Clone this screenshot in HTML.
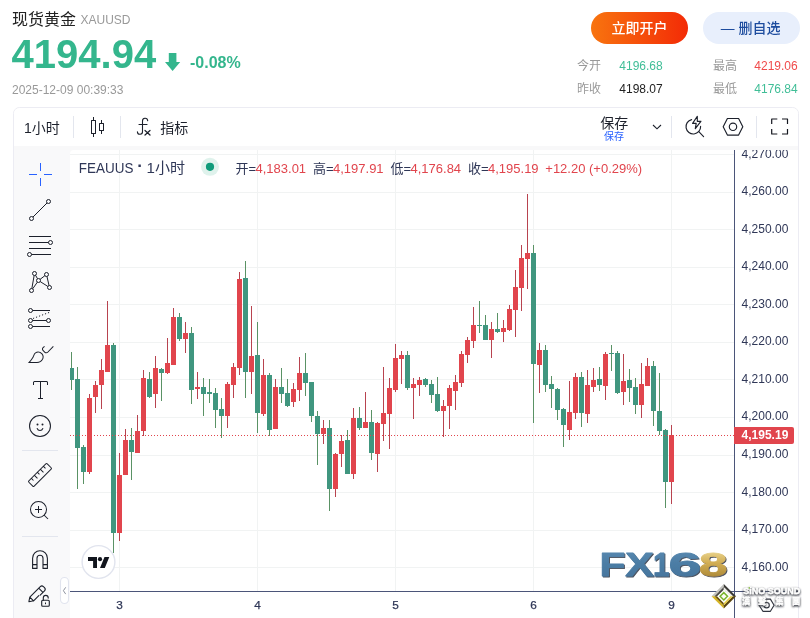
<!DOCTYPE html>
<html lang="zh-CN">
<head>
<meta charset="utf-8">
<title>现货黄金 XAUUSD</title>
<style>
html,body{margin:0;padding:0;background:#fff;}
body{width:810px;height:618px;overflow:hidden;position:relative;font-family:"Liberation Sans","Noto Sans CJK SC",sans-serif;}
svg{position:absolute;left:0;top:0;display:block;}
svg text{font-family:"Liberation Sans","Noto Sans CJK SC",sans-serif;}
</style>
</head>
<body>
<svg width="810" height="618" viewBox="0 0 810 618">
<defs>
<linearGradient id="og" x1="0" y1="0" x2="1" y2="0"><stop offset="0" stop-color="#f8740f"/><stop offset="1" stop-color="#f32b06"/></linearGradient>
<linearGradient id="gold" x1="0" y1="0" x2="0" y2="1"><stop offset="0" stop-color="#f3e3a4"/><stop offset="0.45" stop-color="#d2ae55"/><stop offset="1" stop-color="#a07c2c"/></linearGradient>
<linearGradient id="steel" x1="0" y1="0" x2="0" y2="1"><stop offset="0" stop-color="#5a8bb2"/><stop offset="0.5" stop-color="#4b7ca4"/><stop offset="1" stop-color="#44739b"/></linearGradient>
<linearGradient id="dg" x1="0" y1="0" x2="1" y2="1"><stop offset="0" stop-color="#f2dc84"/><stop offset="0.5" stop-color="#c9a238"/><stop offset="1" stop-color="#6e5412"/></linearGradient>
<filter id="ws" x="-10%" y="-40%" width="120%" height="190%"><feGaussianBlur in="SourceAlpha" stdDeviation="0.900" result="b"/><feOffset in="b" dx="0.400" dy="0.500" result="o"/><feFlood flood-color="#4a4d55" flood-opacity="0.950"/><feComposite in2="o" operator="in" result="sh"/><feMerge><feMergeNode in="sh"/><feMergeNode in="sh"/><feMergeNode in="SourceGraphic"/></feMerge></filter>
<filter id="fxs" x="-5%" y="-20%" width="110%" height="140%"><feOffset in="SourceAlpha" dx="1.200" dy="0.900" result="o"/><feFlood flood-color="#2a3242" flood-opacity="0.850"/><feComposite in2="o" operator="in" result="sh"/><feMerge><feMergeNode in="sh"/><feMergeNode in="SourceGraphic"/></feMerge></filter>
<clipPath id="axclip"><rect x="735" y="150" width="63" height="468"/></clipPath>
<clipPath id="panel"><path d="M14 618V113.500a5.500 5.500 0 0 1 5.500-5.500h773a5.500 5.500 0 0 1 5.500 5.500v504.500z"/></clipPath>
</defs>

<!-- header -->
<text x="12" y="25" font-size="16" fill="#222">现货黄金</text>
<text x="80.5" y="24" font-size="12" fill="#999">XAUUSD</text>
<text x="11.600" y="68.3" font-size="40" font-weight="bold" fill="#34b68d">4194.94</text>
<path d="M168.800 53h7.600v9h3.800l-7.600 8.900-7.600-8.900h3.800z" fill="#34b68d"/>
<text x="190" y="68.3" font-size="16" font-weight="bold" fill="#34b68d">-0.08%</text>
<text x="12" y="94" font-size="12" fill="#999">2025-12-09 00:39:33</text>
<rect x="591" y="12" width="97" height="32" rx="16" fill="url(#og)"/>
<text x="639.5" y="33" font-size="14" font-weight="500" fill="#fff" text-anchor="middle">立即开户</text>
<rect x="703" y="12" width="97" height="32" rx="16" fill="#e8effc"/>
<text x="720.700" y="33" font-size="14" fill="#1d4c9e" textLength="13.800" lengthAdjust="spacingAndGlyphs">—</text>
<text x="738.5" y="33" font-size="14" font-weight="500" fill="#1d4c9e">删自选</text>
<g font-size="12">
<text x="577" y="69.5" fill="#999">今开</text><text x="619.3" y="69.5" fill="#40be97">4196.68</text>
<text x="713" y="69.5" fill="#999">最高</text><text x="754.3" y="69.5" fill="#f04b4b">4219.06</text>
<text x="577" y="93.2" fill="#999">昨收</text><text x="619.3" y="93.2" fill="#222">4198.07</text>
<text x="713" y="93.2" fill="#999">最低</text><text x="754.3" y="93.2" fill="#40be97">4176.84</text>
</g>

<!-- panel -->
<path d="M13.500 618V113.500a6 6 0 0 1 6-6h773a6 6 0 0 1 6 6v504.500" fill="#f9f9fa" stroke="#ececf3" stroke-width="1"/>
<g clip-path="url(#panel)">
<rect x="14" y="108" width="784" height="38" fill="#fff"/>
<rect x="14" y="146" width="784" height="4" fill="#f8f8f9"/>
<rect x="14" y="150" width="56" height="468" fill="#f9f9fa"/>
<path d="M70 618V154a4 4 0 0 1 4-4h724v468z" fill="#fff"/>
</g>

<!-- chart -->
<g shape-rendering="crispEdges">
<rect x="70" y="154" width="664" height="1" fill="#f1f3f3"/>
<rect x="70" y="192" width="664" height="1" fill="#f1f3f3"/>
<rect x="70" y="229" width="664" height="1" fill="#f1f3f3"/>
<rect x="70" y="267" width="664" height="1" fill="#f1f3f3"/>
<rect x="70" y="304" width="664" height="1" fill="#f1f3f3"/>
<rect x="70" y="342" width="664" height="1" fill="#f1f3f3"/>
<rect x="70" y="379" width="664" height="1" fill="#f1f3f3"/>
<rect x="70" y="417" width="664" height="1" fill="#f1f3f3"/>
<rect x="70" y="455" width="664" height="1" fill="#f1f3f3"/>
<rect x="70" y="492" width="664" height="1" fill="#f1f3f3"/>
<rect x="70" y="530" width="664" height="1" fill="#f1f3f3"/>
<rect x="70" y="567" width="664" height="1" fill="#f1f3f3"/>
<rect x="119" y="150" width="1" height="441" fill="#f1f3f3"/>
<rect x="257" y="150" width="1" height="441" fill="#f1f3f3"/>
<rect x="395" y="150" width="1" height="441" fill="#f1f3f3"/>
<rect x="533" y="150" width="1" height="441" fill="#f1f3f3"/>
<rect x="671" y="150" width="1" height="441" fill="#f1f3f3"/>
<path d="M71 352h1v38h-1zM77 367h1v122h-1zM83 445h1v39h-1zM113 343h1v210h-1zM131 428h1v52h-1zM149 372h1v26h-1zM161 368h1v33h-1zM179 313h1v28h-1zM191 327h1v77h-1zM203 378h1v38h-1zM209 379h1v24h-1zM215 388h1v40h-1zM221 398h1v40h-1zM245 261h1v137h-1zM257 322h1v111h-1zM269 373h1v63h-1zM281 368h1v35h-1zM287 379h1v28h-1zM305 353h1v43h-1zM311 382h1v40h-1zM317 411h1v54h-1zM329 420h1v91h-1zM347 430h1v44h-1zM359 407h1v23h-1zM371 410h1v50h-1zM407 351h1v39h-1zM425 378h1v9h-1zM431 380h1v23h-1zM437 377h1v35h-1zM479 301h1v32h-1zM485 315h1v25h-1zM497 313h1v20h-1zM533 245h1v178h-1zM545 345h1v47h-1zM551 376h1v32h-1zM557 388h1v32h-1zM563 408h1v39h-1zM581 372h1v55h-1zM599 367h1v24h-1zM611 345h1v26h-1zM617 351h1v43h-1zM629 369h1v33h-1zM635 378h1v36h-1zM653 361h1v65h-1zM659 373h1v62h-1zM665 429h1v79h-1z" fill="#5a9265"/>
<path d="M89 394h1v80h-1zM95 381h1v32h-1zM101 359h1v50h-1zM107 301h1v71h-1zM119 453h1v88h-1zM125 429h1v46h-1zM137 415h1v38h-1zM143 370h1v66h-1zM155 356h1v52h-1zM167 338h1v36h-1zM173 308h1v57h-1zM185 322h1v31h-1zM197 372h1v27h-1zM227 382h1v46h-1zM233 363h1v35h-1zM239 272h1v103h-1zM251 306h1v88h-1zM263 359h1v57h-1zM275 379h1v50h-1zM293 383h1v24h-1zM299 357h1v44h-1zM323 420h1v24h-1zM335 453h1v44h-1zM341 435h1v32h-1zM353 408h1v71h-1zM365 392h1v36h-1zM377 422h1v50h-1zM383 367h1v74h-1zM389 378h1v71h-1zM395 344h1v48h-1zM401 351h1v33h-1zM413 378h1v41h-1zM419 377h1v19h-1zM443 400h1v37h-1zM449 385h1v44h-1zM455 375h1v35h-1zM461 351h1v36h-1zM467 337h1v26h-1zM473 307h1v41h-1zM491 322h1v36h-1zM503 320h1v22h-1zM509 305h1v26h-1zM515 270h1v67h-1zM521 245h1v66h-1zM527 194h1v95h-1zM539 343h1v50h-1zM569 381h1v59h-1zM575 373h1v46h-1zM587 370h1v53h-1zM593 368h1v24h-1zM605 352h1v48h-1zM623 354h1v51h-1zM641 363h1v55h-1zM647 358h1v28h-1zM671 425h1v79h-1z" fill="#b8434f"/>
<path d="M70 368h4v12h-4zM75 379h5v69h-5zM81 447h5v25h-5zM111 345h5v188h-5zM129 440h5v12h-5zM147 379h5v18h-5zM159 369h5v4h-5zM177 317h5v22h-5zM189 333h5v57h-5zM201 387h5v7h-5zM207 392h5v2h-5zM213 393h5v17h-5zM219 409h5v7h-5zM243 278h5v94h-5zM255 355h5v58h-5zM267 375h5v55h-5zM279 387h5v7h-5zM285 393h5v13h-5zM303 373h5v10h-5zM309 382h5v34h-5zM315 416h5v18h-5zM327 428h5v61h-5zM345 440h5v34h-5zM357 418h5v10h-5zM369 422h5v31h-5zM405 355h5v33h-5zM423 379h5v6h-5zM429 384h5v11h-5zM435 394h5v17h-5zM477 325h5v1h-5zM483 325h5v15h-5zM495 329h5v3h-5zM531 253h5v111h-5zM543 350h5v35h-5zM549 384h5v5h-5zM555 389h5v21h-5zM561 409h5v16h-5zM579 377h5v36h-5zM597 379h5v6h-5zM609 353h5v1h-5zM615 353h5v40h-5zM627 380h5v8h-5zM633 387h5v18h-5zM651 366h5v45h-5zM657 411h5v20h-5zM663 430h5v52h-5z" fill="#40967f"/>
<path d="M87 398h5v74h-5zM93 385h5v12h-5zM99 370h5v15h-5zM105 345h5v27h-5zM117 475h5v58h-5zM123 440h5v35h-5zM135 431h5v22h-5zM141 378h5v53h-5zM153 368h5v26h-5zM165 363h5v10h-5zM171 317h5v48h-5zM183 333h5v6h-5zM195 387h5v2h-5zM225 384h5v32h-5zM231 367h5v18h-5zM237 279h5v89h-5zM249 356h5v16h-5zM261 375h5v39h-5zM273 387h5v42h-5zM291 389h5v13h-5zM297 373h5v17h-5zM321 428h5v6h-5zM333 454h5v35h-5zM339 441h5v13h-5zM351 418h5v56h-5zM363 422h5v6h-5zM375 423h5v31h-5zM381 413h5v11h-5zM387 388h5v26h-5zM393 358h5v32h-5zM399 355h5v4h-5zM411 384h5v4h-5zM417 380h5v5h-5zM441 406h5v5h-5zM447 388h5v18h-5zM453 382h5v9h-5zM459 354h5v29h-5zM465 340h5v15h-5zM471 325h5v16h-5zM489 329h5v11h-5zM501 328h5v4h-5zM507 309h5v21h-5zM513 287h5v23h-5zM519 258h5v30h-5zM525 253h5v6h-5zM537 350h5v15h-5zM567 412h5v18h-5zM573 377h5v36h-5zM585 385h5v29h-5zM591 380h5v7h-5zM603 354h5v32h-5zM621 381h5v11h-5zM639 384h5v21h-5zM645 366h5v20h-5zM669 435h5v47h-5z" fill="#e1454d"/>
<line x1="70" y1="435.5" x2="734" y2="435.5" stroke="#e1454d" stroke-width="1" stroke-dasharray="1 2"/>
<rect x="734" y="150" width="1" height="468" fill="#4b5579"/>
<rect x="70" y="591" width="728" height="1" fill="#4b5579"/>
</g>
<g font-size="12" fill="#2f3757" clip-path="url(#axclip)">
<text x="741.6" y="158">4,270.00</text>
<text x="741.6" y="195">4,260.00</text>
<text x="741.6" y="233">4,250.00</text>
<text x="741.6" y="270">4,240.00</text>
<text x="741.6" y="308">4,230.00</text>
<text x="741.6" y="345">4,220.00</text>
<text x="741.6" y="383">4,210.00</text>
<text x="741.6" y="420">4,200.00</text>
<text x="741.6" y="458">4,190.00</text>
<text x="741.6" y="496">4,180.00</text>
<text x="741.6" y="533">4,170.00</text>
<text x="741.6" y="571">4,160.00</text>
</g>
<path d="M734 427h58a2 2 0 0 1 2 2v13a2 2 0 0 1-2 2h-58z" fill="#e1454d"/>
<text x="741.6" y="439.2" font-size="12" font-weight="bold" fill="#fff">4,195.19</text>
<g font-size="11.800" fill="#2f3757" stroke="#2f3757" stroke-width="0.250" text-anchor="middle">
<text x="119.5" y="608.8">3</text>
<text x="257.5" y="608.8">4</text>
<text x="395.5" y="608.8">5</text>
<text x="533.5" y="608.8">6</text>
<text x="671.5" y="608.8">9</text>
</g>
<!-- top toolbar -->
<g fill="#e3e6ee"><rect x="73" y="116" width="1" height="22"/><rect x="120" y="116" width="1" height="22"/><rect x="671" y="116" width="1" height="22"/><rect x="756" y="116" width="1" height="22"/></g>
<text x="24" y="132.600" font-size="14" fill="#1c202b">1小时</text>
<g transform="translate(83 113)" fill="#1c202b"><path d="M17 11v6h3v-6h-3zm-.5-1h4a.5.5 0 0 1 .5.5v7a.5.5 0 0 1-.5.5h-4a.5.5 0 0 1-.5-.5v-7a.5.5 0 0 1 .5-.5z"/><path d="M18 7h1v3.500h-1zm0 10.500h1V21h-1z"/><path d="M9 8v12h3V8H9zm-.5-1h4a.5.5 0 0 1 .5.5v13a.5.5 0 0 1-.5.5h-4a.5.5 0 0 1-.5-.5v-13a.5.5 0 0 1 .5-.5z"/><path d="M10 4h1v3.500h-1zm0 16.500h1V24h-1z"/></g>
<g fill="none" stroke="#1c202b" stroke-width="1.100" stroke-linecap="round"><path d="M147.700 120.600A2.600 2.600 0 0 0 142.500 121V131.500A2.550 2.550 0 0 1 137.400 131.900"/><path d="M139 124.500h8"/><path d="M145 130.500l5 4.500M150 130.500l-5 4.500" stroke-width="1.250"/></g>
<text x="160.300" y="132.600" font-size="14" fill="#1c202b">指标</text>
<text x="600.300" y="128" font-size="14" fill="#1c202b">保存</text>
<text x="604" y="139.700" font-size="10" fill="#2962ff">保存</text>
<path d="M653 125l4 3.800 4-3.800" fill="none" stroke="#1c202b" stroke-width="1.100"/>
<g fill="none" stroke="#1c202b" stroke-width="1.150" stroke-linejoin="round" stroke-linecap="round">
<path d="M691.600 119.600A7.300 7.300 0 1 0 700.600 126.400"/><path d="M698.800 131.700l4.800 4.900"/><path d="M697.300 116.300L692.600 123.400H696.200L695.300 128.600L700.900 121.300H697.300Z"/><path d="M723.200 126.800L727.400 118.500H738.600L742.800 126.800L738.600 135.100H727.400Z"/><circle cx="733" cy="126.800" r="3.700"/>

</g>
<path d="M771.700 124V119H777.300M782 119H787.500V124M787.500 129V134H782M777.300 134H771.700V129" fill="none" stroke="#14171f" stroke-width="1.200" stroke-linejoin="round"/>

<!-- legend -->
<text x="78.800" y="172.700" font-size="14.500" fill="#2f3757" textLength="54.600" lengthAdjust="spacingAndGlyphs">FEAUUS</text>
<text x="137.300" y="171.200" font-size="17" font-weight="bold" fill="#2f3757">·</text>
<text x="146.600" y="172.700" font-size="14.500" fill="#2f3757" textLength="38.500" lengthAdjust="spacingAndGlyphs">1小时</text>
<circle cx="210" cy="166.800" r="9" fill="#dff2ec"/><circle cx="210" cy="166.800" r="4.100" fill="#0f9b7a"/>
<g font-size="13">
<text x="235.500" y="173.100" fill="#2f3757">开=</text><text x="255.500" y="173.100" fill="#e1454d">4,183.01</text>
<text x="313" y="173.100" fill="#2f3757">高=</text><text x="333" y="173.100" fill="#e1454d">4,197.91</text>
<text x="390.500" y="173.100" fill="#2f3757">低=</text><text x="410.500" y="173.100" fill="#e1454d">4,176.84</text>
<text x="468" y="173.100" fill="#2f3757">收=</text><text x="488" y="173.100" fill="#e1454d">4,195.19</text>
<text x="545.300" y="173.100" fill="#e1454d">+12.20 (+0.29%)</text>
</g>

<!-- left toolbar -->
<g transform="translate(26 160)" fill="#2962ff"><path d="M18 15h8v-1h-8z"/><path d="M14 18v8h1v-8zM14 3v8h1v-8zM3 15h8v-1h-8z"/></g>
<g transform="translate(26 196)" fill="none" stroke="#1c202b" stroke-width="1"><path d="M7 21l14-14"/><circle cx="22.5" cy="5.5" r="2"/><circle cx="5.5" cy="22.5" r="2"/></g>
<g transform="translate(26 232)" fill="none" stroke="#1c202b" stroke-width="1"><path d="M3 4.500h22M3 16.500h22M3 10.500h19.500M5.500 22.500h19.500"/><circle cx="24.5" cy="10.5" r="2"/><circle cx="3.5" cy="22.5" r="2"/></g>
<g transform="translate(26 268)" fill="none" stroke="#1c202b" stroke-width="1"><path d="M8.150 7.500l-2.300 13M9.500 7.200l2 3.500M11.400 14.100l-4.700 6.700M14.100 11.300l4.800-3.600M14.200 13.600l7.600 4.800M20.950 8.450l2.100 9.100"/><circle cx="8.5" cy="5.5" r="2"/><circle cx="5.5" cy="22.5" r="2"/><circle cx="12.5" cy="12.5" r="2"/><circle cx="20.5" cy="6.5" r="2"/><circle cx="23.5" cy="19.5" r="2"/></g>
<g transform="translate(26 304)" fill="none" stroke="#1c202b" stroke-width="1"><path d="M6.500 6.500h17.500M6.500 16.500h14M6.500 22.500h17.500"/><path d="M7 14.500l16.500-6.200" stroke-dasharray="1.200 2"/><circle cx="4.5" cy="6.5" r="2"/><circle cx="4.5" cy="16.5" r="2"/><circle cx="22.5" cy="16.5" r="2"/><circle cx="4.5" cy="22.5" r="2"/></g>
<g transform="translate(26 340)" fill="#1c202b"><path d="M1.789 23l.859-.854.221-.228c.18-.19.38-.409.597-.655.619-.704 1.238-1.478 1.815-2.298.982-1.396 1.738-2.776 2.177-4.081 1.234-3.667 5.957-4.716 8.923-1.263 3.251 3.785-.037 9.380-5.379 9.380h-9.211zm9.211-1c4.544 0 7.272-4.642 4.621-7.728-2.450-2.853-6.225-2.015-7.216.931-.474 1.408-1.273 2.869-2.307 4.337-.599.852-1.241 1.653-1.882 2.383l-.068.078h6.853z"/><path d="M18.182 6.002l-1.419 1.286c-1.031.935-1.075 2.501-.096 3.480l1.877 1.877c.976.976 2.553.954 3.513-.045l5.650-5.874-.721-.693-5.650 5.874c-.574.596-1.507.609-2.086.031l-1.877-1.877c-.574-.574-.548-1.480.061-2.032l1.419-1.286-.672-.741z"/></g>
<g transform="translate(26 376)" fill="#1c202b"><path d="M8 6.500c0-.28.22-.5.5-.5H14v16h-2v1h5v-1h-2V6h5.500c.28 0 .5.22.5.5V9h1V6.500c0-.83-.67-1.500-1.500-1.500h-11C7.670 5 7 5.670 7 6.500V9h1V6.500z"/></g>
<g transform="translate(26 412)" fill="#1c202b"><path fill-rule="evenodd" d="M4.050 14a9.950 9.950 0 1 1 19.900 0 9.950 9.950 0 0 1-19.900 0zM14 3a11 11 0 1 0 0 22 11 11 0 0 0 0-22zm-3 13.030a.5.5 0 0 1 .64.3 2.500 2.500 0 0 0 4.720 0 .5.5 0 0 1 .94.340 3.500 3.500 0 0 1-6.600 0 .5.5 0 0 1 .3-.640zm.5-4.530a1 1 0 1 0 0 2 1 1 0 0 0 0-2zm5 0a1 1 0 1 0 0 2 1 1 0 0 0 0-2z"/></g>
<rect x="22" y="450" width="36" height="1" fill="#e3e6ee"/>
<g transform="translate(26 461)" fill="#1c202b"><path fill-rule="evenodd" transform="rotate(-45 14 14)" d="M2 9.750a1.500 1.500 0 0 0-1.500 1.500v5.500a1.500 1.500 0 0 0 1.500 1.500h24a1.500 1.500 0 0 0 1.500-1.500v-5.500a1.500 1.500 0 0 0-1.500-1.500zm0 1h3v2.500h1v-2.500h3.250v3.900h1v-3.900h3.250v2.500h1v-2.500h3.250v3.900h1v-3.900H22v2.500h1v-2.500h3a.5.5 0 0 1 .5.5v5.500a.5.5 0 0 1-.5.5H2a.5.5 0 0 1-.5-.5v-5.500a.5.5 0 0 1 .5-.5z"/></g>
<g transform="translate(26 497)" fill="#1c202b"><path d="M17.646 18.354l4 4 .708-.708-4-4z"/><path fill-rule="evenodd" d="M12.500 21a8.500 8.500 0 1 1 0-17 8.500 8.500 0 0 1 0 17zm0-1a7.500 7.500 0 1 0 0-15 7.500 7.500 0 0 0 0 15z"/><path d="M9 13h7v-1H9z"/><path d="M13 16V9h-1v7z"/></g>
<rect x="22" y="536" width="36" height="1" fill="#e3e6ee"/>
<g fill="none" stroke="#1c202b" stroke-width="1.100" stroke-linejoin="round"><path d="M32.600 568.400V558.200A7.400 7.400 0 0 1 47.400 558.200V568.400H43V558.200A3 3 0 0 0 37 558.200V568.400ZM32.600 564.600H37M43 564.600H47.400"/></g>
<g fill="none" stroke="#1c202b" stroke-width="1.100" stroke-linejoin="round" stroke-linecap="round"><path d="M28.900 601.700l.9-4.600 10.500-10.500a2.200 2.200 0 0 1 3.100 0l1.100 1.100a2.200 2.200 0 0 1 0 3.100l-4.300 4.300M28.900 601.700l4.700-.9 5.200-5.200M29.800 597.100l3.800 3.700M38.700 588.200l4 4"/><rect x="41.700" y="600.300" width="7.600" height="6" rx="1"/><path d="M43.300 600.300v-2.500a2.450 2.450 0 0 1 4.900 0v.3"/></g>
<rect x="45" y="602.500" width="1" height="1.700" fill="#1c202b"/>
<rect x="60.500" y="577.500" width="8" height="26" rx="4" fill="#fff" stroke="#e1e4ee" stroke-width="1.100"/>
<path d="M65.700 587.300l-2.300 3.400 2.300 3.400" fill="none" stroke="#8f94a1" stroke-width="1"/>

<!-- logos -->
<circle cx="98.500" cy="562" r="16.400" fill="#fff" stroke="#e1e4ee" stroke-width="1.400"/>
<g transform="translate(88 554.700) scale(0.600)" fill="#12151d"><path d="M15 22H8.500V10.500H0V4h15v18zM28 22h-8l7.500-18h8L28 22z"/><circle cx="20" cy="7.500" r="3.500"/></g>
<text y="575.600" font-weight="bold" font-size="32.300" stroke-width="0.800" stroke-linejoin="round" filter="url(#fxs)"><tspan x="599.5" textLength="25.85" lengthAdjust="spacingAndGlyphs" fill="url(#steel)" stroke="url(#steel)">F</tspan><tspan x="625.2" textLength="28.44" lengthAdjust="spacingAndGlyphs" fill="url(#steel)" stroke="url(#steel)">X</tspan><tspan x="653.1" textLength="16.53" lengthAdjust="spacingAndGlyphs" fill="url(#steel)" stroke="url(#steel)">1</tspan><tspan x="668.4" textLength="32.69" lengthAdjust="spacingAndGlyphs" fill="url(#steel)" stroke="url(#steel)">6</tspan><tspan x="699.0" textLength="28.38" lengthAdjust="spacingAndGlyphs" fill="url(#gold)" stroke="url(#gold)">8</tspan></text>
<g fill="none" stroke="#1c202b" stroke-width="1.150" stroke-linejoin="round" opacity="0.900"><path d="M759.100 605.200l3.800-6.100h7.500l3.700 6.100-3.700 6.100h-7.500z"/><circle cx="766.600" cy="605.200" r="2.700"/></g>
<g><path d="M723.8 584.0L711.5 596.3L714.8 596.3L723.8 587.3Z" fill="#c4c4c0"/><path d="M723.8 584.0L736.1 596.3L732.8 596.3L723.8 587.3Z" fill="#3b3a36"/><path d="M723.8 608.6L711.5 596.3L714.8 596.3L723.8 605.3Z" fill="#d6b526"/><path d="M723.8 608.6L736.1 596.3L732.8 596.3L723.8 605.3Z" fill="#5a4510"/><path d="M723.8 587.1L714.6 596.3L717.4 596.3L723.8 589.9Z" fill="#4a4843"/><path d="M723.8 587.1L733.0 596.3L730.2 596.3L723.8 589.9Z" fill="#efefe9"/><path d="M723.8 605.5L714.6 596.3L717.4 596.3L723.8 602.7Z" fill="#6b5312"/><path d="M723.8 605.5L733.0 596.3L730.2 596.3L723.8 602.7Z" fill="#e3cb45"/><path d="M723.8 589.7l6.600 6.600-6.600 6.600-6.600-6.600z" fill="#fdfdf8"/><path d="M723.8 592.6l3.700 3.700-3.700 3.700-3.700-3.700z" fill="none" stroke="#7ab52c" stroke-width="1.500"/></g>
<g font-weight="bold" filter="url(#ws)"><text x="743.300" y="594.200" font-size="9" fill="#fff" stroke="#fff" stroke-width="0.350" textLength="57" lengthAdjust="spacingAndGlyphs">SiNO SOUND</text><text x="742.300 758.200 775.500 792.200" y="604.300" font-size="7.800" fill="#fff" stroke="#fff" stroke-width="0.350" font-family="'Liberation Sans','Noto Sans CJK TC',sans-serif">漢聲集團</text></g>
<circle cx="749.300" cy="587.900" r="0.800" fill="#8cc63f"/>

</svg>
</body>
</html>
